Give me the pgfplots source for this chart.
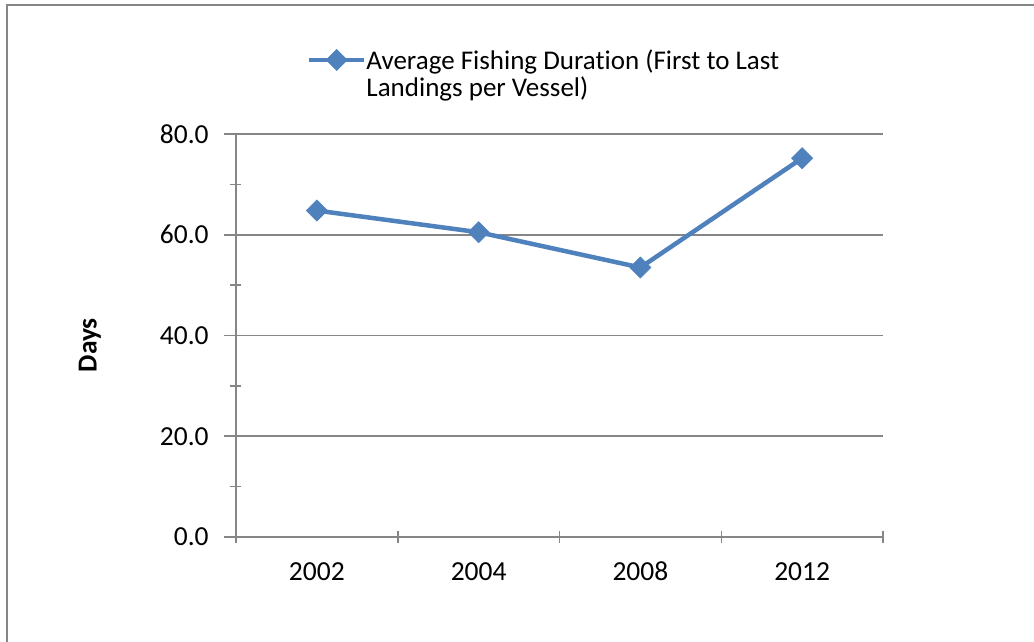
\documentclass[border=0pt]{standalone}
\usepackage{pgfplots}
\pgfplotsset{compat=1.18}
\usepackage{fontspec}
\setmainfont{Carlito}[Ligatures=NoCommon]
\definecolor{serblue}{HTML}{4F81BD}
\definecolor{axgray}{HTML}{868686}
\begin{document}
\fontsize{27.5}{28}\selectfont
\begin{tikzpicture}
\path[use as bounding box] (0,0) rectangle (1034pt,642pt);
% chart frame
\draw[axgray, line width=2pt] (7pt,0) -- (7pt,637pt) -- (1034pt,637pt);
\begin{axis}[
  at={(236pt,105pt)}, anchor=south west,
  scale only axis, width=647pt, height=403pt,
  xmin=0, xmax=4, ymin=0, ymax=80,
  axis x line*=bottom, axis y line*=left,
  axis line style={axgray, line width=1.5pt, -},
  xtick={0,1,2,3,4}, xticklabels={},
  extra x ticks={0.5,1.5,2.5,3.5},
  extra x tick labels={2002,2004,2008,2012},
  extra x tick style={major tick length=0pt, grid=none,
    tick label style={yshift=-15pt, anchor=north, text height=19pt, text depth=0pt}},
  ytick={0,20,40,60,80}, minor y tick num=1,
  ymajorgrids,
  major grid style={axgray, line width=1.5pt},
  tick align=outside,
  major tick length=12pt, minor tick length=11pt,
  every tick/.style={axgray, line width=1.5pt},
  major x tick style={yshift=6pt},
  minor y tick style={xshift=5pt},
  yticklabel style={/pgf/number format/fixed,
    /pgf/number format/fixed zerofill,
    /pgf/number format/precision=1, xshift=-6pt},
  /pgf/number format/assume math mode=true,
  ylabel={\bfseries Days},
  ylabel style={at={(axis description cs:-0.226,0.476)}, anchor=center, rotate=0},
  legend style={at={(axis description cs:0.1097,1.210)}, anchor=north west,
    draw=none, fill=none, inner sep=0pt, outer sep=0pt,
    nodes={inner sep=0pt, outer sep=0pt},
    cells={anchor=north west}, column sep=0pt,
    font=\fontsize{27}{28}\selectfont},
  legend image code/.code={
    \draw[#1, mark=none] (0pt,-10.5pt) -- (55pt,-10.5pt);
    \draw[#1, only marks] plot coordinates {(27.5pt,-10.5pt)};
  },
]
\addplot[serblue, line width=4.5pt, mark=square*,
  mark size=7.5pt, mark options={solid, rotate=45, line width=0.5pt}]
  coordinates {(0.5,64.8) (1.5,60.5) (2.5,53.5) (3.5,75.2)};
\addlegendentry{\begin{tabular}[t]{@{}l@{}}Average Fishing Duration (First to Last\\[-1pt]Landings per Vessel)\end{tabular}}
\end{axis}
\end{tikzpicture}
\end{document}
